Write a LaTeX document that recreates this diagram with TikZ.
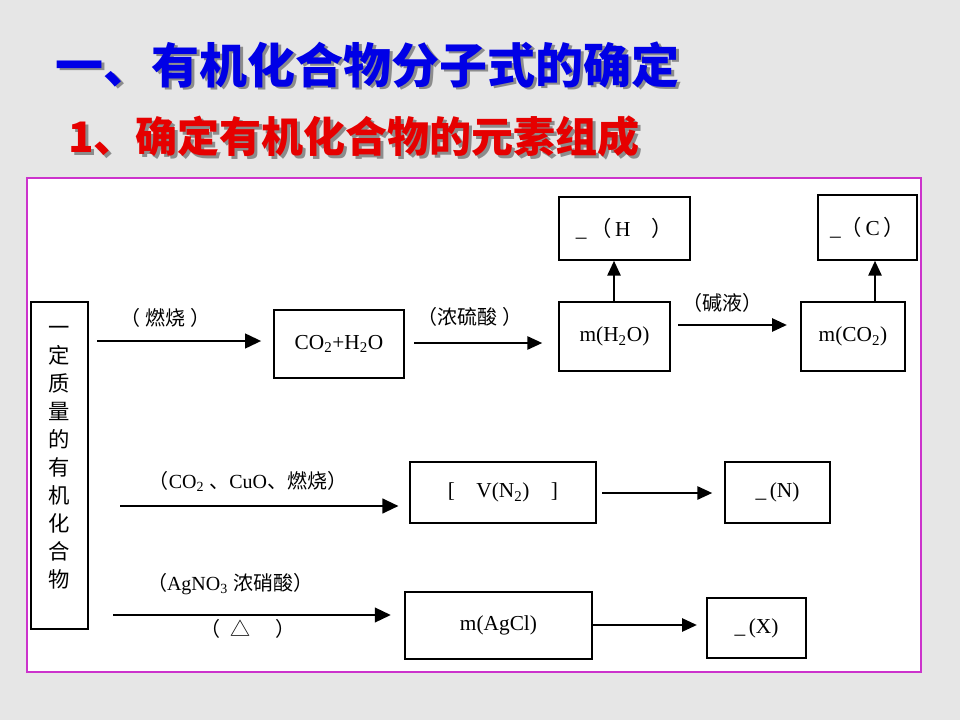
\documentclass[tikz,border=0pt]{standalone}
\usepackage{fontspec}
\setmainfont{Liberation Serif}
\newfontfamily\cjk{Noto Sans CJK SC}
\usetikzlibrary{arrows.meta}
\definecolor{bgray}{RGB}{230,230,230}
\definecolor{frame}{RGB}{204,51,204}
\definecolor{tblue}{RGB}{0,0,230}
\definecolor{tred}{RGB}{230,0,0}
\definecolor{shad}{RGB}{140,140,140}
\newcommand\pxbox[6]{\node[box,minimum width={(#4-#2)*0.75pt},minimum height={(#5-#3)*0.75pt}] (#1) at ({(#2+#4)/2},{(#3+#5)/2}) {#6};}
\newcommand\shadowed[2]{\rlap{\hspace{2.2pt}\raisebox{-2.2pt}{\color{shad}#2}}{\color{#1}#2}}
\begin{document}
\begin{tikzpicture}[x=0.75pt,y=-0.75pt,
  box/.style={draw,line width=1.3pt,inner sep=0pt,font=\fontsize{16}{18}\selectfont},
  lbl/.style={inner sep=0pt,font=\fontsize{15}{17}\selectfont},
  arr/.style={line width=1.6pt,-{Triangle[length=12pt,width=11pt]}},
  arrthin/.style={line width=1pt,-{Triangle[length=11pt,width=10pt]}},
  ttl/.style={inner sep=0pt,anchor=west,font=\cjk\bfseries\fontsize{36}{38}\selectfont},
  sub/.style={inner sep=0pt,anchor=west,font=\cjk\bfseries\fontsize{31.5}{33}\selectfont}]
\useasboundingbox (0,0) rectangle (960,720);
\fill[bgray] (0,0) rectangle (960,720);
% titles with shadows
\node[ttl] (t1) at (55,66) {\shadowed{tblue}{一、有机化合物分子式的确定}};
\node[sub] (t2) at (68,138) {\shadowed{tred}{1、确定有机化合物的元素组成}};
% frame
\draw[frame,fill=white,line width=1pt] (27,178) rectangle (921,672);
% boxes
\pxbox{src}{31}{302}{88}{629}{}
\node[inner sep=0pt,align=center,font=\cjk\fontsize{16}{21}\selectfont] (srct) at (59.5,458) {一\\定\\质\\量\\的\\有\\机\\化\\合\\物};
\pxbox{co}{274}{310}{404}{378}{CO\textsubscript{2}+H\textsubscript{2}O}
\pxbox{mh}{559}{302}{670}{371}{m(H\textsubscript{2}O)}
\pxbox{h}{559}{197}{690}{260}{\_\,{\cjk（}\,H\quad{\cjk）}}
\pxbox{mc}{801}{302}{905}{371}{m(CO\textsubscript{2})}
\pxbox{c}{818}{195}{917}{260}{\_{\cjk（}\,C\,{\cjk）}}
\pxbox{vn}{410}{462}{596}{523}{[\quad V(N\textsubscript{2})\quad ]}
\pxbox{n}{725}{462}{830}{523}{\_\,(N)}
\pxbox{ag}{405}{592}{592}{659}{m(AgCl)}
\pxbox{x}{707}{598}{806}{658}{\_\,(X)}
% arrows row 1
\coordinate (a1) at (97,341);
\draw[arr,shorten >=9pt] (a1) -- (a1 -| co.west);
\node[lbl] (l1) at (165,318) {{\cjk（}\ {\cjk 燃烧}\ {\cjk）}};
\coordinate (a2) at (414,343);
\draw[arrthin,shorten >=12pt] (a2) -- (a2 -| mh.west);
\node[lbl] (l2) at (470,317) {{\cjk（浓硫酸}\ {\cjk）}};
\draw[arrthin] (mh.north -| 614,0) -- (h.south -| 614,0);
\coordinate (a3) at (678,325);
\draw[arrthin,shorten >=10pt] (a3) -- (a3 -| mc.west);
\node[lbl] (l3) at (722,303) {\cjk（碱液）};
\draw[arrthin] (mc.north -| 875,0) -- (c.south -| 875,0);
% row 2
\coordinate (b1) at (120,506);
\draw[arr,shorten >=8pt] (b1) -- (b1 -| vn.west);
\node[lbl] (l4) at (248,481) {{\cjk（}CO\textsubscript{2}\ {\cjk、}CuO{\cjk、燃烧）}};
\coordinate (b2) at (602,493);
\draw[arrthin,shorten >=9pt] (b2) -- (b2 -| n.west);
% row 3
\coordinate (c1) at (113,615);
\draw[arr,shorten >=10pt] (c1) -- (c1 -| ag.west);
\node[lbl] (l5) at (230,584) {{\cjk（}AgNO\textsubscript{3}\ {\cjk 浓硝酸）}};
\node[lbl] (l6) at (248,629) {{\cjk（}\ \ {\cjk △}\quad\ {\cjk）}};
\coordinate (c2) at (592,625);
\draw[arrthin,shorten >=7pt] (c2) -- (c2 -| x.west);
\end{tikzpicture}
\end{document}
